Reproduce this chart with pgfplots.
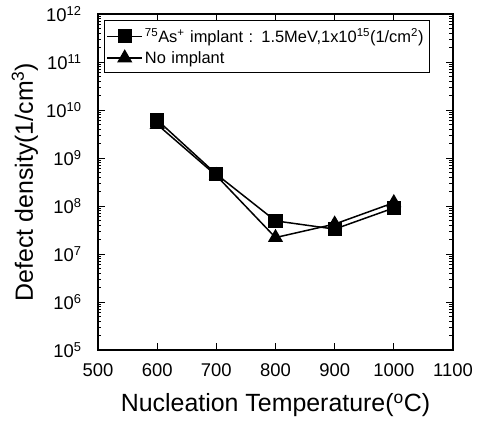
\documentclass[border=0pt]{standalone}
\usepackage{pgfplots}
\pgfplotsset{compat=1.18}
\usepackage{fontspec}
\setmainfont{Liberation Sans}
\begin{document}
\begin{tikzpicture}
\begin{axis}[
    scale only axis,
    width=355bp, height=336bp,
    ymode=log,
    xmin=500, xmax=1100,
    ymin=1e5, ymax=1e12,
    xtick={500,600,...,1100},
    ytick={1e5,1e6,1e7,1e8,1e9,1e10,1e11,1e12},
    yticklabels={10\textsuperscript{5},10\textsuperscript{6},10\textsuperscript{7},10\textsuperscript{8},10\textsuperscript{9},10\textsuperscript{10},10\textsuperscript{11},10\textsuperscript{12}},
    tick align=inside,
    axis line style={line width=2pt},
    major tick length=7bp,
    minor tick length=3.5bp,
    tick style={line width=0.9pt, black},
    /pgf/number format/assume math mode=true,
    /pgf/number format/set thousands separator={},
    tick label style={font=\fontsize{18.5}{21}\selectfont},
    xticklabel style={anchor=north, yshift=-10bp},
    yticklabel style={anchor=east, xshift=-13bp},
    xlabel={Nucleation Temperature(\textsuperscript{o}C)},
    ylabel={Defect density(1/cm\textsuperscript{3})},
    label style={font=\fontsize{25}{29}\selectfont},
    xlabel style={at={(axis description cs:0.5,0)}, anchor=base, yshift=-62bp},
    ylabel style={at={(axis description cs:-0.206,0.5)}, anchor=center},
    legend style={at={(0.017,0.982)}, anchor=north west, draw=black, line width=0.9pt,
        font=\fontsize{16.5}{19.5}\selectfont, inner xsep=2bp, inner ysep=6bp, row sep=3bp,
        text width=280bp},
    legend image code/.code={
        \draw[#1, line width=1.5pt] (5bp,0bp) -- (40bp,0bp);
        \draw[#1, line width=1.5pt] plot coordinates {(22.5bp,0bp)};
    },
    legend cell align=left,
]
\addplot[black, line width=1.5pt, mark=square*, mark size=6.3pt, mark options={solid}]
    coordinates {(600,6.2e9) (700,4.6e8) (800,4.9e7) (900,3.3e7) (1000,9.1e7)};
\addlegendentry{\textsuperscript{75}As\textsuperscript{+} implant : 1.5MeV,1x10\textsuperscript{15}(1/cm\textsuperscript{2})}
\addplot[black, line width=1.5pt, mark=triangle*, mark size=7.3pt, mark options={solid}]
    coordinates {(600,5.0e9) (700,4.3e8) (800,2.2e7) (900,4.2e7) (1000,1.17e8)};
\addlegendentry{No implant}
\end{axis}
\path (current axis.south west) ++(-98bp,-70bp) -- ++(484bp,420bp);
\end{tikzpicture}
\end{document}
